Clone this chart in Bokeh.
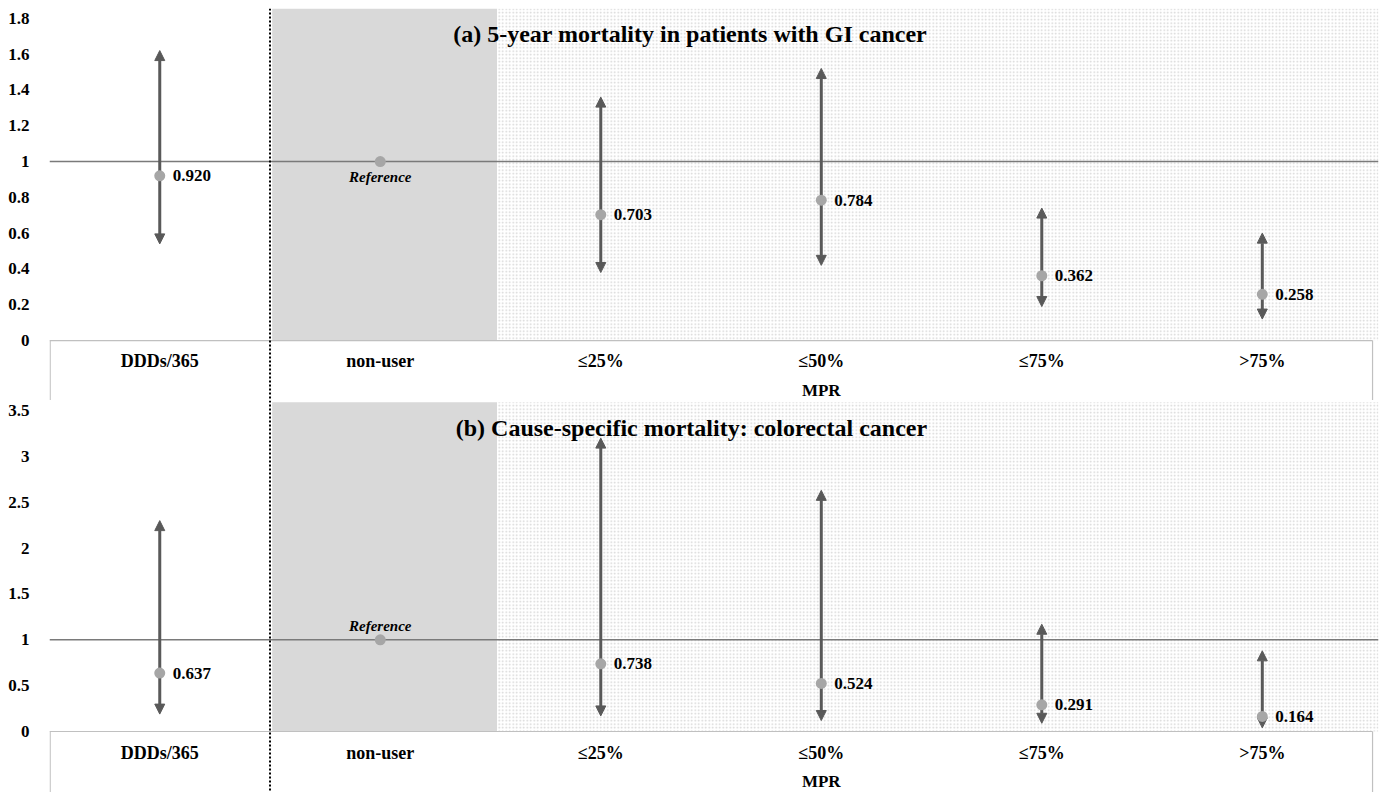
from bokeh.plotting import figure
from bokeh.models import Range1d, FixedTicker, Span, Arrow, NormalHead, ColumnDataSource
from bokeh.layouts import column
from bokeh.embed import file_html
from bokeh.resources import INLINE
from bokeh.core.properties import value

categories = ["DDDs/365", "non-user", "≤25%", "≤50%", "≤75%", ">75%"]
x_pos = [0.5, 1.5, 2.5, 3.5, 4.5, 5.5]

a_title = "(a) 5-year mortality in patients with GI cancer"
a_est = [0.920, 1.0, 0.703, 0.784, 0.362, 0.258]
a_low = [0.54, None, 0.38, 0.42, 0.19, 0.12]
a_up = [1.62, None, 1.36, 1.52, 0.74, 0.60]
a_ticks = [0, 0.2, 0.4, 0.6, 0.8, 1, 1.2, 1.4, 1.6, 1.8]
a_tick_labels = ["0", "0.2", "0.4", "0.6", "0.8", "1", "1.2", "1.4", "1.6", "1.8"]

b_title = "(b) Cause-specific mortality: colorectal cancer"
b_est = [0.637, 1.0, 0.738, 0.524, 0.291, 0.164]
b_low = [0.19, None, 0.17, 0.12, 0.09, 0.04]
b_up = [2.30, None, 3.20, 2.63, 1.17, 0.88]
b_ticks = [0, 0.5, 1, 1.5, 2, 2.5, 3, 3.5]
b_tick_labels = ["0", "0.5", "1", "1.5", "2", "2.5", "3", "3.5"]

REF_IDX = 1
SERIF = value("Liberation Serif")
ARROW_C = "#595959"
POINT_C = "#a6a6a6"
X_END = 6.027


def make_panel(title, est, low, up, ticks, tick_labels, y0, y1, height, top_pad,
               shade_top, title_y, cat_y, mpr_y, ref_offset):
    p = figure(width=1381, height=height, output_backend="svg", toolbar_location=None,
               x_range=Range1d(0, X_END), y_range=Range1d(y0, y1),
               min_border_left=49, min_border_right=3, min_border_top=top_pad,
               min_border_bottom=0, x_axis_location=None)
    p.outline_line_color = None
    p.xgrid.visible = False
    p.ygrid.visible = False
    p.background_fill_color = "white"

    # shaded regions
    g = p.quad(left=[1.01], right=[2.03], bottom=[0], top=[shade_top],
               fill_color="#d9d9d9", line_color=None)
    g.level = "image"
    h = p.quad(left=[2.03], right=[X_END], bottom=[0], top=[shade_top],
               fill_color="white", line_color=None,
               hatch_pattern="dot", hatch_color="#d4d4d4", hatch_scale=3.5, hatch_weight=1.2)
    h.level = "image"

    # category box
    p.segment(x0=[0, 0.003, 6.0], y0=[0, 0, 0], x1=[6.0, 0.003, 6.0], y1=[0, y0, y0],
              line_color="#c0c0c0", line_width=1.2)

    # reference line and separator
    p.add_layout(Span(location=1, dimension="width", line_color="#7a7a7a",
                      line_width=1.5, level="underlay"))
    p.add_layout(Span(location=1.0, dimension="height", line_color="black",
                      line_width=2, line_dash="2 2"))

    # CIs
    xs = [x for i, x in enumerate(x_pos) if i != REF_IDX]
    src = ColumnDataSource(dict(
        x=xs,
        low=[v for i, v in enumerate(low) if i != REF_IDX],
        up=[v for i, v in enumerate(up) if i != REF_IDX],
        est=[v for i, v in enumerate(est) if i != REF_IDX],
        lab=[f"{v:.3f}" for i, v in enumerate(est) if i != REF_IDX],
    ))
    head = dict(size=10, fill_color=ARROW_C, line_color=ARROW_C, line_width=1)
    p.add_layout(Arrow(start=NormalHead(**head), end=NormalHead(**head),
                       x_start="x", y_start="low", x_end="x", y_end="up", source=src,
                       line_color=ARROW_C, line_width=3, level="underlay"))

    p.scatter(x=x_pos, y=est, size=11, fill_color=POINT_C, line_color=None)

    p.text(x="x", y="est", text="lab", source=src, x_offset=13,
           text_align="left", text_baseline="middle", text_font=SERIF,
           text_font_style="bold", text_font_size="17px", text_color="black")

    p.text(x=[x_pos[REF_IDX]], y=[est[REF_IDX]], text=["Reference"], y_offset=ref_offset,
           text_align="center", text_baseline="middle", text_font=SERIF,
           text_font_style="bold italic", text_font_size="15px", text_color="black")

    # category labels
    p.text(x=x_pos, y=[cat_y] * len(x_pos), text=categories, text_align="center",
           text_baseline="middle", text_font=SERIF, text_font_style="bold",
           text_font_size="18px", text_color="black")
    p.text(x=[3.5], y=[mpr_y], text=["MPR"], text_align="center",
           text_baseline="middle", text_font=SERIF, text_font_style="bold",
           text_font_size="17px", text_color="black")

    # title
    p.text(x=[3.98], y=[title_y], text=[title], text_align="right",
           text_baseline="middle", text_font=SERIF, text_font_style="bold",
           text_font_size="24px", text_color="black")

    ax = p.yaxis[0]
    ax.ticker = FixedTicker(ticks=ticks)
    ax.major_label_overrides = dict(zip(ticks, tick_labels))
    ax.axis_line_color = None
    ax.major_tick_line_color = None
    ax.minor_tick_line_color = None
    ax.major_label_standoff = 14
    ax.major_label_text_font = "Liberation Serif"
    ax.major_label_text_font_style = "bold"
    ax.major_label_text_font_size = "17px"
    ax.major_label_text_color = "black"
    return p


pa = make_panel(a_title, a_est, a_low, a_up, a_ticks, a_tick_labels,
                -0.335, 1.855, 400, 8, 1.855, 1.715, -0.117, -0.279, 15)
pb = make_panel(b_title, b_est, b_low, b_up, b_ticks, b_tick_labels,
                -0.665, 3.61, 392, 0, 3.59, 3.315, -0.229, -0.545, -14)

layout = column(pa, pb, spacing=0)
open("out.html", "w").write(file_html(layout, INLINE))
